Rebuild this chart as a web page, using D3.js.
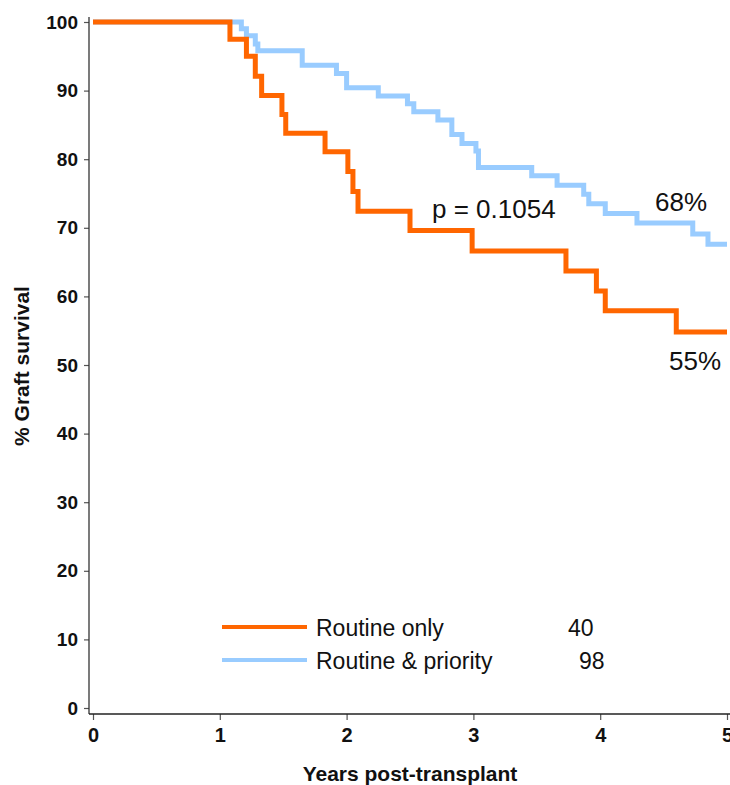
<!DOCTYPE html>
<html>
<head>
<meta charset="utf-8">
<script src="https://cdn.jsdelivr.net/npm/d3@7"></script>
<style>
  body { margin: 0; background: white; }
  svg { display: block; }
</style>
</head>
<body>
<div id="chart"></div>
<script>
// step times (years) and survival (%)
var routine_times = [0, 1.08, 1.21, 1.28, 1.33, 1.49, 1.52, 1.83, 2.01, 2.05, 2.09, 2.50, 2.99, 3.73, 3.97, 4.04, 4.60, 5.0];
var routine_surv  = [100, 97.5, 95.0, 92.1, 89.3, 86.5, 83.8, 81.1, 78.2, 75.3, 72.4, 69.6, 66.6, 63.7, 60.8, 57.9, 54.8, 54.8];

var priority_times = [0, 1.17, 1.21, 1.28, 1.30, 1.65, 1.92, 2.00, 2.25, 2.48, 2.53, 2.72, 2.83, 2.91, 3.02, 3.04, 3.46, 3.66, 3.87, 3.91, 4.04, 4.29, 4.73, 4.85, 5.0];
var priority_surv  = [100, 99.0, 98.0, 96.8, 95.8, 93.7, 92.5, 90.4, 89.2, 88.1, 86.9, 85.7, 83.6, 82.3, 81.2, 78.8, 77.6, 76.2, 74.9, 73.5, 72.1, 70.7, 69.1, 67.6, 67.6];

var x_ticks = [0, 1, 2, 3, 4, 5];
var y_ticks = [0, 10, 20, 30, 40, 50, 60, 70, 80, 90, 100];

var legend_names = ['Routine only', 'Routine & priority'];
var legend_counts = ['40', '98'];
var colors = ['#ff6600', '#99ccff'];

var x_scale = d3.scaleLinear().domain([0, 5]).range([93, 727]);
var y_scale = d3.scaleLinear().domain([0, 100]).range([708, 22]);

var svg = d3.select('#chart').append('svg')
    .attr('width', 730)
    .attr('height', 785);

var tick_font = '"Liberation Sans Narrow", "Arial Narrow", "Liberation Sans", sans-serif';
var text_font = '"Liberation Sans", Arial, sans-serif';

// axes
var x_axis = d3.axisBottom(x_scale).tickValues(x_ticks).tickSize(6).tickPadding(8).tickFormat(d3.format('d'));
var y_axis = d3.axisLeft(y_scale).tickValues(y_ticks).tickSize(5).tickPadding(6).tickFormat(d3.format('d'));

svg.append('g').attr('class', 'x_axis')
    .attr('transform', 'translate(0,714)')
    .call(x_axis)
    .call(g => g.select('.domain').remove());
svg.append('g').attr('class', 'y_axis')
    .attr('transform', 'translate(89,0)')
    .call(y_axis)
    .call(g => g.select('.domain').remove());

svg.append('line').attr('x1', 89).attr('x2', 89).attr('y1', 17).attr('y2', 714)
    .attr('stroke', '#333').attr('stroke-width', 1.3);
svg.append('line').attr('x1', 89).attr('x2', 730).attr('y1', 714).attr('y2', 714)
    .attr('stroke', '#222').attr('stroke-width', 1.6);

svg.selectAll('g.tick>line').attr('stroke', '#555').attr('stroke-width', 1.2);
svg.selectAll('g.tick>text')
    .style('font-family', tick_font)
    .style('font-weight', 'bold')
    .style('font-size', '19px')
    .attr('fill', '#111');
svg.selectAll('g.x_axis>.tick>text').style('font-size', '20px');

// curves
var step_line = d3.line()
    .x(function(d){ return x_scale(d[0]); })
    .y(function(d){ return y_scale(d[1]); })
    .curve(d3.curveStepAfter);

var series = [
    d3.zip(priority_times, priority_surv),
    d3.zip(routine_times, routine_surv)
];
var series_colors = [colors[1], colors[0]];

svg.selectAll('path.km')
    .data(series)
    .enter()
    .append('path')
    .attr('class', 'km')
    .attr('d', step_line)
    .attr('fill', 'none')
    .attr('stroke', function(d, i){ return series_colors[i]; })
    .attr('stroke-width', 5);

// annotations
svg.append('text').attr('x', 432).attr('y', 218).text('p = 0.1054')
    .style('font-family', text_font).style('font-size', '26px').attr('fill', '#111');
svg.append('text').attr('x', 655).attr('y', 211).text('68%')
    .style('font-family', text_font).style('font-size', '26px').attr('fill', '#111');
svg.append('text').attr('x', 669).attr('y', 370).text('55%')
    .style('font-family', text_font).style('font-size', '26px').attr('fill', '#111');

// legend
var legend = svg.selectAll('g.legend')
    .data(legend_names)
    .enter()
    .append('g')
    .attr('class', 'legend')
    .attr('transform', function(d, i){ return 'translate(0,' + (627 + i * 33) + ')'; });

legend.append('line')
    .attr('x1', 222).attr('x2', 307).attr('y1', 0).attr('y2', 0)
    .attr('stroke', function(d, i){ return colors[i]; })
    .attr('stroke-width', 4);
legend.append('text')
    .attr('x', 316).attr('y', 9)
    .text(function(d){ return d; })
    .style('font-family', text_font).style('font-size', '23px').attr('fill', '#111');
legend.append('text')
    .attr('x', function(d, i){ return [568, 579][i]; }).attr('y', 9)
    .text(function(d, i){ return legend_counts[i]; })
    .style('font-family', text_font).style('font-size', '23px').attr('fill', '#111');

// axis titles
svg.append('text')
    .attr('x', 410).attr('y', 781)
    .attr('text-anchor', 'middle')
    .text('Years post-transplant')
    .style('font-family', tick_font).style('font-weight', 'bold').style('font-size', '21px').attr('fill', '#111');
svg.append('text')
    .attr('transform', 'translate(29,366) rotate(-90)')
    .attr('text-anchor', 'middle')
    .text('% Graft survival')
    .style('font-family', tick_font).style('font-weight', 'bold').style('font-size', '21px').attr('fill', '#111');
</script>
</body>
</html>
